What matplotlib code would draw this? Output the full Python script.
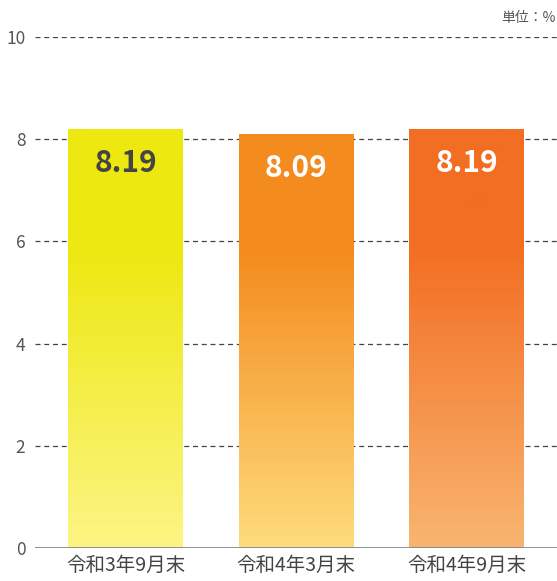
import numpy as np
import matplotlib.pyplot as plt
from matplotlib.colors import LinearSegmentedColormap

plt.rcParams['font.family'] = ['Noto Sans CJK JP', 'DejaVu Sans']

# data
categories = ['令和3年9月末', '令和4年3月末', '令和4年9月末']
values = [8.19, 8.09, 8.19]
labels = ['8.19', '8.09', '8.19']
top_colors = ['#EDE80F', '#F48B1E', '#F26E22']
bottom_colors = ['#FCF585', '#FEDC7C', '#F9B570']
label_colors = ['#444444', 'white', 'white']

fig = plt.figure(figsize=(5.57, 5.81), dpi=100)
ax = fig.add_axes([35 / 557, 33 / 581, 1 - 35 / 557, 511 / 581])

width = 0.674
x = np.arange(len(categories))

# grid lines behind bars
for yv in [2, 4, 6, 8, 10]:
    ax.axhline(yv, color='#444444', lw=0.9, ls=(0, (4, 3)), zorder=0)
ax.axhline(0, color='#888888', lw=2, zorder=3)

grad = np.linspace(0, 1, 256).reshape(-1, 1)
for i, v in enumerate(values):
    cmap = LinearSegmentedColormap.from_list(
        'g%d' % i, [(0, bottom_colors[i]), (0.72, top_colors[i]), (1, top_colors[i])])
    ax.imshow(grad, extent=[x[i] - width / 2, x[i] + width / 2, 0, v],
              origin='lower', aspect='auto', cmap=cmap, zorder=2)
    ax.text(x[i], v - 0.66, labels[i], ha='center', va='center',
            fontsize=21.5, fontweight='bold', color=label_colors[i], zorder=4)

ax.set_xlim(-0.531, 2.531)
ax.set_ylim(0, 10)
ax.set_yticks([0, 2, 4, 6, 8, 10])
ax.set_xticks(x)
ax.set_xticklabels(categories)
ax.tick_params(axis='y', length=0, pad=7, labelsize=12.5, labelcolor='#555555')
ax.tick_params(axis='x', length=0, pad=5, labelsize=14, labelcolor='#444444')
for s in ax.spines.values():
    s.set_visible(False)

fig.text(0.997, 1 - 18 / 581, '単位：%', ha='right', va='center',
         fontsize=10, color='#555555')

fig.savefig('out.png', dpi=100)
